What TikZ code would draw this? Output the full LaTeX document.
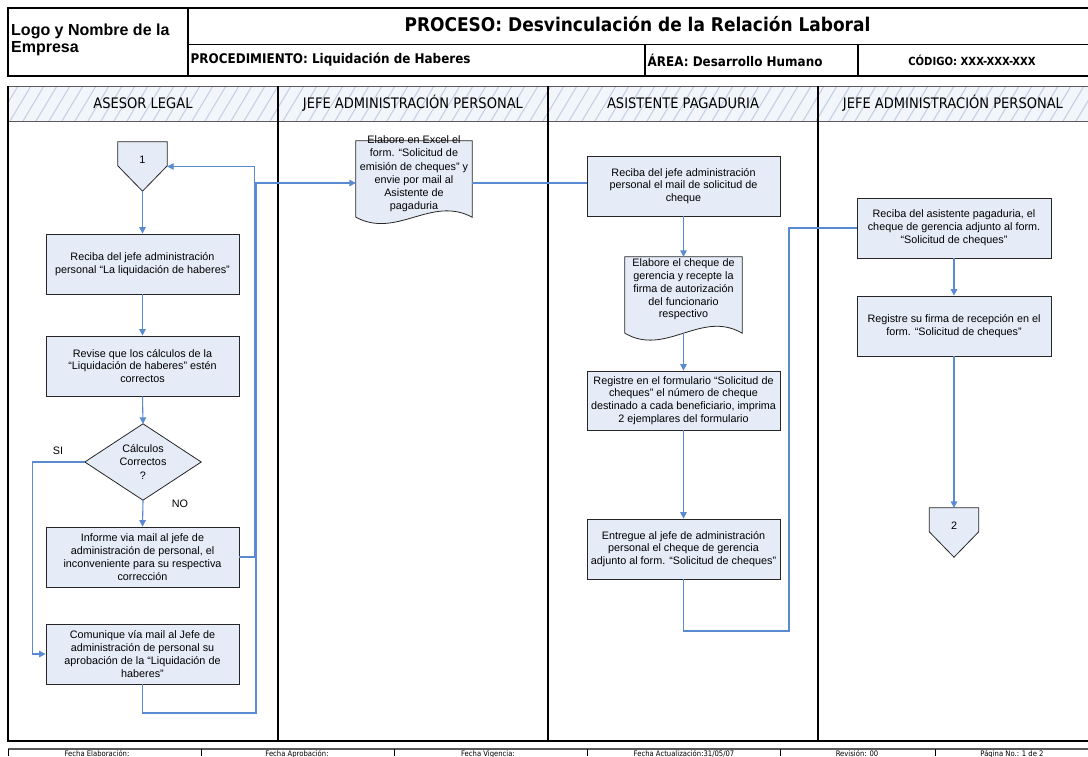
\documentclass[tikz,border=0pt]{standalone}
\usepackage{fontspec}
\setmainfont{Liberation Sans}
\newfontfamily\tahoma{DejaVu Sans}[FakeStretch=0.9]
\usetikzlibrary{arrows.meta,calc}
\pgfdeclarelayer{background}
\pgfsetlayers{background,main}

\definecolor{boxfill}{HTML}{E6ECF7}
\definecolor{flowblue}{HTML}{5A8AD2}
\definecolor{hatchbg}{HTML}{F2F5FA}
\definecolor{hatchln}{HTML}{C5D0E4}
\definecolor{framegray}{HTML}{5A5A5A}

\tikzset{
  proc/.style={draw=black!85, line width=0.8pt, fill=boxfill, minimum width=193pt,
    minimum height=60pt, inner sep=1pt, align=center,
    font=\fontsize{10.8}{12.8}\selectfont},
  shapeonly/.style={draw=none, inner sep=0pt},
  shapeline/.style={draw=black!85, line width=0.8pt, fill=boxfill},
  boxtext/.style={align=center, inner sep=0pt, font=\fontsize{10.8}{13.2}\selectfont},
  flow/.style={draw=flowblue, line width=1.1pt},
  flowarrow/.style={flow, -{Triangle[length=6.5pt,width=6.5pt]}},
  lanerule/.style={line width=1.8pt, black},
  hdrrule/.style={line width=1.3pt, black},
  hdrtext/.style={inner sep=0pt, font=\tahoma\bfseries\fontsize{13.3}{16}\selectfont},
  lanetitle/.style={inner sep=0pt, font=\tahoma\fontsize{14.5}{17}\selectfont},
  foottext/.style={inner sep=0pt, anchor=north, font=\tahoma\fontsize{7.6}{9}\selectfont},
  lbl/.style={inner sep=0pt, font=\fontsize{10.8}{13}\selectfont},
}

\begin{document}
\begin{tikzpicture}[x=1pt,y=-1pt]
\useasboundingbox (0,0) rectangle (1088,756);
\begin{pgfonlayer}{background}
  \fill[white] (0,0) rectangle (1088,756);
\end{pgfonlayer}

% ---------- title block ----------
\draw[hdrrule] (1088,8) -- (8,8) -- (8,76) -- (1088,76);
\draw[hdrrule] (188,8) -- (188,76);
\draw[hdrrule] (188,44.5) -- (1088,44.5);
\draw[hdrrule] (645,44.5) -- (645,76) (858,44.5) -- (858,76);
\node[anchor=west, align=left, inner sep=0pt, font=\bfseries\fontsize{16}{17.5}\selectfont]
  (logo) at (11,40) {Logo y Nombre de la\\Empresa};
\node[hdrtext, font=\tahoma\bfseries\fontsize{18.9}{22}\selectfont]
  (proceso) at (637.5,24) {PROCESO: Desvinculación de la Relación Laboral};
\node[hdrtext, anchor=west] (procd) at (190.5,60) {PROCEDIMIENTO: Liquidación de Haberes};
\node[hdrtext, anchor=west] (area) at (647.5,60) {ÁREA: Desarrollo Humano};
\node[hdrtext, font=\tahoma\bfseries\fontsize{11.2}{13}\selectfont]
  (codigo) at (972,60) {CÓDIGO: XXX-XXX-XXX};

% ---------- swimlane heads ----------
\begin{scope}
  \clip (8,86) rectangle (1088,121);
  \fill[hatchbg] (8,86) rectangle (1088,121);
  \foreach \k in {0,...,88}
    \draw[hatchln, line width=1.1pt] ({\k*13-16},121) -- ++(21,-35);
\end{scope}
\draw[line width=1pt, framegray] (8,86) -- (1088,86) (8,121) -- (1088,121);
\draw[lanerule] (8,86) -- (8,741) -- (1088,741);
\draw[lanerule] (278,86) -- (278,741) (548,86) -- (548,741) (818,86) -- (818,741);
\node[lanetitle] (lane1) at (143,103) {ASESOR LEGAL};
\node[lanetitle] (lane2) at (413,103) {JEFE ADMINISTRACIÓN PERSONAL};
\node[lanetitle] (lane3) at (683,103) {ASISTENTE PAGADURIA};
\node[lanetitle] (lane4) at (953,103) {JEFE ADMINISTRACIÓN PERSONAL};

% ---------- footer ----------
\draw[line width=2pt, framegray] (8,749) -- (1088,749);
\foreach \x in {8,201,394,587,780,935}
  \draw[line width=1pt] (\x,749) -- (\x,756);
\node[foottext] (f1) at (97,750.5) {Fecha Elaboración:};
\node[foottext] (f2) at (297,750.5) {Fecha Aprobación:};
\node[foottext] (f3) at (488,750.5) {Fecha Vigencia:};
\node[foottext] (f4) at (684,750.5) {Fecha Actualización:31/05/07};
\node[foottext] (f5) at (857,750.5) {Revisión: 00};
\node[foottext] (f6) at (1012,750.5) {Página No.: 1 de 2};

% ---------- lane 1: asesor legal ----------
\node[shapeonly, minimum width=49pt, minimum height=49pt] (off1) at (142.5,166.5) {};
\node[lbl] (off1t) at (142.5,160) {1};
\node[proc] (a1) at (142.5,264) {Reciba del jefe administración\\personal “La liquidación de haberes”};
\node[proc] (a2) at (142.5,366) {Revise que los cálculos de la\\“Liquidación de haberes” estén\\correctos};
\node[shapeonly, minimum width=116pt, minimum height=76pt, align=center,
  font=\fontsize{10.8}{13.3}\selectfont] (dia) at (143,462) {Cálculos\\Correctos\\?};
\node[proc] (a3) at (142.5,557) {Informe via mail al jefe de\\administración de personal, el\\inconveniente para su respectiva\\corrección};
\node[proc] (a4) at (142.5,654) {Comunique vía mail al Jefe de\\administración de personal su\\aprobación de la “Liquidación de\\haberes”};
\node[lbl] (si) at (58,451) {SI};
\node[lbl] (no) at (180,504) {NO};

% ---------- lane 2 ----------
\node[shapeonly, minimum width=116pt, minimum height=76pt] (d1) at (414,179) {};
\node[boxtext] (d1t) at (414,174) {Elabore en Excel el\\form. “Solicitud de\\emisión de cheques” y\\envie por mail al\\Asistente de\\pagaduria};

% ---------- lane 3 ----------
\node[proc] (b1) at (683.5,186) {Reciba del jefe administración\\personal el mail de solicitud de\\cheque};
\node[shapeonly, minimum width=117pt, minimum height=76pt] (d2) at (683.5,295) {};
\node[boxtext, font=\fontsize{10.8}{12.8}\selectfont] (d2t) at (683.5,289.5) {Elabore el cheque de\\gerencia y recepte la\\firma de autorización\\del funcionario\\respectivo};
\node[proc, minimum height=59pt] (b3) at (683.5,400.5) {Registre en el formulario “Solicitud de\\cheques” el número de cheque\\destinado a cada beneficiario, imprima\\2 ejemplares del formulario};
\node[proc] (b4) at (683.5,549) {Entregue al jefe de administración\\personal el cheque de gerencia\\adjunto al form. “Solicitud de cheques”};

% ---------- lane 4 ----------
\node[proc, minimum width=194pt] (e1) at (954,228) {Reciba del asistente pagaduria, el\\cheque de gerencia adjunto al form.\\“Solicitud de cheques”};
\node[proc, minimum width=194pt] (e2) at (954,326) {Registre su firma de recepción en el\\form. “Solicitud de cheques”};
\node[shapeonly, minimum width=49pt, minimum height=49pt] (off2) at (954,532.5) {};
\node[lbl] (off2t) at (954,526) {2};

% ---------- outlined symbols behind the texts ----------
\begin{pgfonlayer}{background}
  \filldraw[shapeline] (off1.north west) -- (off1.north east) -- ($(off1.north east)+(0,24)$)
    -- (off1.south) -- ($(off1.north west)+(0,24)$) -- cycle;
  \filldraw[shapeline] (off2.north west) -- (off2.north east) -- ($(off2.north east)+(0,24)$)
    -- (off2.south) -- ($(off2.north west)+(0,24)$) -- cycle;
  \filldraw[shapeline] (dia.north) -- (dia.east) -- (dia.south) -- (dia.west) -- cycle;
  \filldraw[shapeline] (d1.north west) -- (d1.north east) -- (d1.south east)
    .. controls ($(d1.south east)+(-41,-22)$) and ($(d1.south west)+(41,22)$) .. (d1.south west) -- cycle;
  \filldraw[shapeline] (d2.north west) -- (d2.north east) -- (d2.south east)
    .. controls ($(d2.south east)+(-41,-24)$) and ($(d2.south west)+(41,24)$) .. (d2.south west) -- cycle;
\end{pgfonlayer}

% ---------- connectors ----------
\draw[flowarrow] (off1.south) -- (a1.north);
\draw[flowarrow] (a1.south) -- (a2.north);
\draw[flowarrow] (a2.south) -- (dia.north);
\draw[flowarrow] (dia.south) -- (a3.north);
\draw[flowarrow] (dia.west) -- ++(-52,0) |- (a4.west);
\draw[flowarrow] (a3.east) -- ++(15,0) |- (off1.east);
\coordinate (retA) at (256,713);
\draw[flowarrow] (a4.south) |- (retA) |- ($(d1.west)+(0,4)$);
\coordinate (d1o) at ($(d1.east)+(0,4)$);
\draw[flow] (d1o) -- (d1o -| b1.west);
\draw[flowarrow] (b1.south) -- (d2.north);
\draw[flowarrow] (d2.south) -- (b3.north);
\draw[flowarrow] (b3.south) -- (b4.north);
\coordinate (retB) at (789,631);
\draw[flow] (b4.south) |- (retB) |- (e1.west);
\draw[flowarrow] (e1.south) -- (e2.north);
\draw[flowarrow] (e2.south) -- (off2.north);
\end{tikzpicture}
\end{document}
